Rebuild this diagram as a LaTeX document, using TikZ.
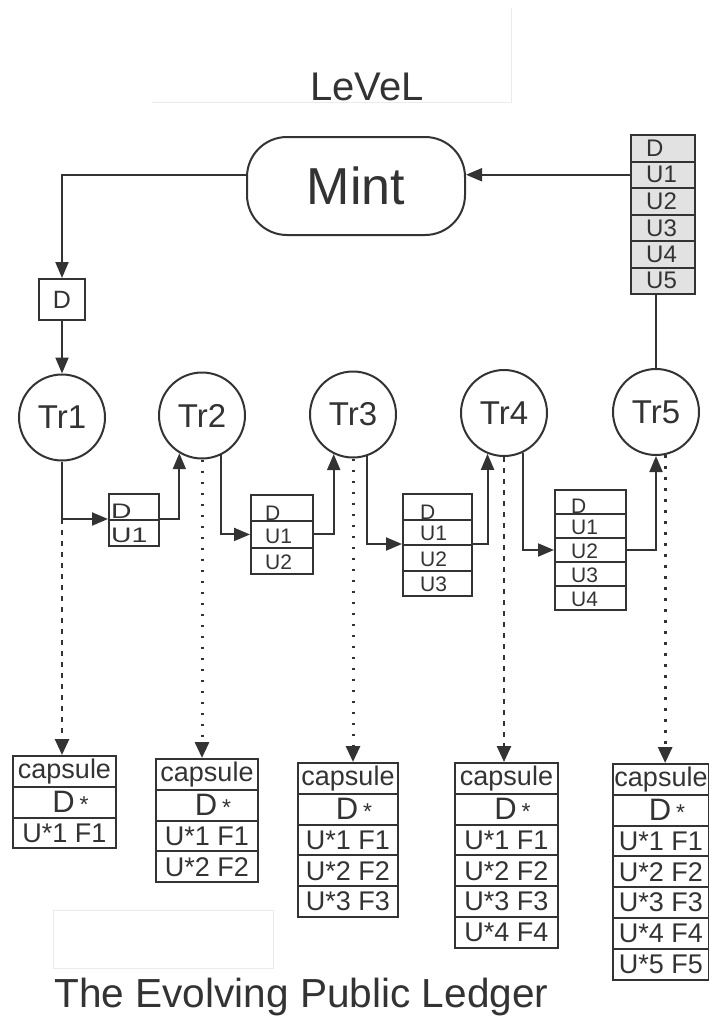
\documentclass[tikz,border=0pt]{standalone}
\usepackage{fontspec}
\setmainfont{Liberation Sans}
\usetikzlibrary{arrows.meta,calc}
\definecolor{ink}{HTML}{333333}
\definecolor{faintline}{HTML}{EBEBEB}
\definecolor{stackfill}{HTML}{E2E2E2}
\newcommand{\fsz}[1]{\fontsize{#1}{#1}\selectfont}
% capsule stack: name, left x, top y, width, number of U rows
\newcommand{\capsulestack}[5]{%
  \node[cell,minimum width=#4pt,minimum height=30.8pt,font=\fsz{27}] (#1-1) at (#2,#3) {capsule};
  \node[cell,minimum width=#4pt,minimum height=30.8pt] (#1-2) at (#2,{#3+30.8}) {\hspace{12pt}{\fsz{31}D}\hspace{5pt}{\fsz{23}*}};
  \foreach \k in {1,...,#5} {
    \node[cell,minimum width=#4pt,minimum height=30.8pt,font=\fsz{27}] (#1-u\k) at (#2,{#3+(\k+1)*30.8}) {U*\k\ F\k};
  }%
}
\begin{document}
\begin{tikzpicture}[x=1pt,y=-1pt,
  every node/.style={text=ink},
  cell/.style={draw=ink,line width=2pt,rectangle,inner sep=0pt,anchor=north west},
  celltxt/.style={inner sep=0pt,anchor=west,font=\fsz{21}},
  trnode/.style={draw=ink,line width=2pt,circle,minimum size=86pt,inner sep=0pt,font=\fsz{33}},
  arr/.style={draw=ink,line width=2pt,-{Triangle[length=16pt,width=13pt]}},
  plainline/.style={draw=ink,line width=2pt},
  dashedarr/.style={draw=ink,line width=2.6pt,dash pattern=on 5pt off 6pt,-{Triangle[length=16pt,width=14pt]}},
  dottedarr/.style={draw=ink,line width=3pt,dash pattern=on 2.8pt off 8.2pt,-{Triangle[length=16pt,width=14pt]}},
  faint/.style={draw=faintline,line width=0.8pt}
]
\useasboundingbox (0,0) rectangle (709,1017);

% faint paste-borders
\draw[faint] (152,102) -- (511,102) -- (511,8);
\draw[faint] (53,910) rectangle (273,968);

% titles
\node[anchor=base,font=\fsz{40},inner sep=0pt] (level) at (367,100) {LeVeL};
\node[anchor=base west,font=\fsz{40.6},inner sep=0pt] (title) at (54,1007) {The Evolving Public Ledger};

% Mint
\node[draw=ink,line width=2pt,rounded corners=40pt,minimum width=218pt,minimum height=98pt,font=\fsz{52}] (mint) at (356,186) {Mint};

% top-right stack
\foreach \lab [count=\i] in {D,U1,U2,U3,U4,U5} {
  \node[cell,fill=stackfill,minimum width=64pt,minimum height=26.5pt] (ts\i) at (630,{134+(\i-1)*26.5}) {};
  \node[celltxt,font=\fsz{24},xshift=16pt] (ts\i-t) at (ts\i.west) {\lab};
}

% D box
\node[draw=ink,line width=2pt,minimum width=46pt,minimum height=41pt,inner sep=0pt,font=\fsz{25}] (dbox) at (62,299.5) {D};

% transactions
\node[trnode] (tr1) at (62,417.5) {Tr1};
\node[trnode] (tr2) at (202,415.5) {Tr2};
\node[trnode] (tr3) at (353,414.5) {Tr3};
\node[trnode] (tr4) at (504,413) {Tr4};
\node[trnode] (tr5) at (656,412) {Tr5};

% small boxes
\foreach \lab [count=\i] in {D,U1} {
  \pgfmathsetmacro\ys{\i==1 ? -4 : -2}
  \node[cell,minimum width=50pt,minimum height=26pt] (b1-\i) at (108,{493+(\i-1)*26}) {};
  \node[celltxt,xshift=3pt,yshift=\ys pt] (b1-\i-t) at (b1-\i.west) {\scalebox{1.35}[1]{\lab}};
}
\foreach \lab [count=\i] in {D,U1,U2} {
  \pgfmathsetmacro\ys{\i==1 ? -5 : -1.5}
  \node[cell,minimum width=62pt,minimum height=26.3pt] (b2-\i) at (250,{494+(\i-1)*26.3}) {};
  \node[celltxt,xshift=15pt,yshift=\ys pt] (b2-\i-t) at (b2-\i.west) {\lab};
}
\foreach \lab [count=\i] in {D,U1,U2,U3} {
  \pgfmathsetmacro\ys{\i==1 ? -6 : -1.5}
  \node[cell,minimum width=69pt,minimum height=25.5pt] (b3-\i) at (402,{493+(\i-1)*25.5}) {};
  \node[celltxt,xshift=18pt,yshift=\ys pt] (b3-\i-t) at (b3-\i.west) {\lab};
}
\foreach \lab [count=\i] in {D,U1,U2,U3,U4} {
  \pgfmathsetmacro\ys{\i==1 ? -4 : -1}
  \node[cell,minimum width=71pt,minimum height=24pt] (b4-\i) at (554,{489+(\i-1)*24}) {};
  \node[celltxt,xshift=17pt,yshift=\ys pt] (b4-\i-t) at (b4-\i.west) {\lab};
}

% capsules
\capsulestack{cap1}{12}{755}{103}{1}
\capsulestack{cap2}{155}{758}{102}{2}
\capsulestack{cap3}{297}{762}{100}{3}
\capsulestack{cap4}{454}{762}{103}{4}
\capsulestack{cap5}{612}{763}{96}{5}

% Mint connections
\draw[arr] (ts2.west) -- (mint.east |- ts2.west);
\draw[arr] (mint.west |- ts2.west) -| (dbox.north);
\draw[arr] (dbox.south) -- (tr1.north);
\draw[plainline] (tr5.north |- ts6.south) -- (tr5.north);

% chain
\draw[arr] (tr1.south) |- (b1-2.north west);
\draw[arr] (b1-2.north east) -| (tr2.-121);
\draw[arr] (tr2.-65) |- (b2-2.west);
\draw[arr] (b2-2.east) -| (tr3.-116);
\draw[arr] (tr3.-71) |- (b3-3.north west);
\draw[arr] (b3-3.north east) -| (tr4.-112);
\draw[arr] (tr4.-65) |- (b4-3.west);
\draw[arr] (b4-3.east) -| (tr5.south);

% dotted links to capsules
\draw[dashedarr] (tr1.south |- b1-2.north west) -- (tr1.south |- cap1-1.north);
\draw[dottedarr] (tr2.south) -- (tr2.south |- cap2-1.north);
\draw[dottedarr] (tr3.south) -- (tr3.south |- cap3-1.north);
\draw[dashedarr] (tr4.south) -- (tr4.south |- cap4-1.north);
\draw[dottedarr] (tr5.-78) -- (tr5.-78 |- cap5-1.north);
\end{tikzpicture}
\end{document}
